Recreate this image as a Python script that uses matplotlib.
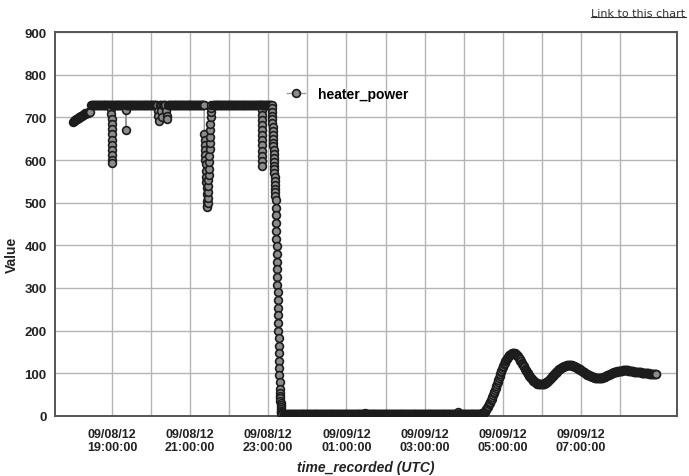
import matplotlib
matplotlib.use("Agg")
import matplotlib.dates as mdates
import matplotlib.pyplot as plt
import matplotlib.ticker as mticker
from matplotlib.lines import Line2D
import numpy as np
import pandas as pd

# heater_power, stored as segments: start time, sample step (s), values
warmup = [690, 691, 692, 693, 694, 695, 696, 697, 698, 699, 700, 701, 702, 703,
          704, 705, 706, 707, 708, 709, 710, 710, 711, 711, 712, 712, 713]
plateau_a = [730] * 31
dip_1900 = [730, 720, 708, 696, 684, 672, 660, 648, 636, 624, 612, 600, 594, 730]
plateau_b = [730] * 19
dip_1921 = [730, 718, 670, 730]
plateau_c = [730] * 45
dips_2010 = [730, 730, 716, 703, 692, 730, 730, 730, 714, 700,
             730, 730, 730, 730, 730, 716, 704, 696, 730, 730]
plateau_d = [730] * 54
dip_2121 = [730, 660, 648, 636, 624, 612, 600, 590, 575, 560, 548, 535, 520, 505,
            492, 490, 500, 512, 525, 540, 552, 565, 580, 595, 610, 625, 640, 655,
            670, 685, 700, 712, 722, 730]
plateau_e = [730] * 75
dip_2249 = [730, 718, 706, 694, 682, 670, 658, 646, 634, 622, 610, 598, 586, 730]
plateau_f = [730] * 14
shutdown = [730, 722, 713, 704, 695, 686, 677, 668, 659, 650, 641, 632, 623, 614,
            605, 596, 587, 578, 569, 560, 551, 542, 533, 524, 515, 506,
            488, 470, 452, 434, 416, 398, 380, 362, 344, 326, 308, 290, 272, 254,
            236, 218, 200, 182, 164, 147, 130, 113, 96, 79, 63,
            55, 48, 42, 36, 30, 25, 20, 16, 12, 9, 7, 6, 5, 5, 4, 4]
idle = [5, 4, 4, 5, 3] + [4] * 120 + [6, 4, 5] + [4] * 139 + [10, 5] + [4] * 35
recovery = [6, 7, 8, 9, 10, 12, 14, 16, 18, 21, 24, 27, 30, 33, 37, 41, 45, 49, 53, 57,
            62, 66, 71, 75, 80, 84, 89, 93, 98, 102, 106, 110, 114, 117, 121, 124, 128, 131, 134, 136,
            139, 141, 143, 144, 146, 146, 147, 147, 148, 148, 147, 146, 145, 143, 142, 140, 138, 135, 133, 130,
            128, 125, 123, 120, 117, 114, 111, 108, 106, 103, 101, 98, 96, 94, 92, 90, 88, 86, 84, 82,
            81, 80, 79, 78, 77, 76, 76, 75, 75, 74, 74, 74, 74, 74, 75, 75, 76, 77, 78, 79,
            80, 81, 83, 84, 86, 87, 89, 91, 93, 94, 96, 98, 100, 101, 103, 104, 106, 107, 109, 110,
            111, 112, 113, 114, 115, 116, 117, 117, 118, 118, 119, 119, 120, 120, 120, 120, 120, 119, 119, 118,
            118, 117, 117, 116, 115, 114, 113, 112, 111, 110, 109, 108, 107, 106, 105, 104, 103, 102, 101, 100,
            99, 98, 97, 96, 96, 95, 94, 93, 93, 92, 92, 91, 91, 90, 90, 90, 90, 89, 89, 89,
            89, 89, 89, 89, 90, 90, 91, 91, 92, 92, 93, 94, 95, 95, 96, 97, 98, 98, 99, 100,
            101, 101, 102, 102, 103, 103, 104, 104, 105, 105, 105, 105, 106, 106, 106, 106, 107, 107, 107, 107,
            107, 107, 107, 107, 107, 106, 106, 106, 106, 105, 105, 105, 105, 104, 104, 104, 104, 103, 103, 103,
            103, 102, 102, 102, 102, 101, 101, 101, 101, 100, 100, 100, 100, 100, 100, 100, 100, 99, 99, 99,
            99, 99, 99, 99, 99, 98, 98, 98, 98]

seg_start = ["2012-09-08 18:00:00", "2012-09-08 18:28:00", "2012-09-08 18:59:00",
             "2012-09-08 19:02:00", "2012-09-08 19:21:00", "2012-09-08 19:23:00",
             "2012-09-08 20:08:00", "2012-09-08 20:28:00", "2012-09-08 21:21:30",
             "2012-09-08 21:35:00", "2012-09-08 22:49:30", "2012-09-08 22:51:00",
             "2012-09-08 23:05:00", "2012-09-08 23:24:00", "2012-09-09 04:28:00"]
seg_step_s = [60, 60, 6, 60, 10, 60, 60, 60, 20, 60, 6, 60, 15, 60, 60]
seg_values = [warmup, plateau_a, dip_1900, plateau_b, dip_1921, plateau_c, dips_2010,
              plateau_d, dip_2121, plateau_e, dip_2249, plateau_f, shutdown, idle, recovery]

tick_times = ["2012-09-08 19:00", "2012-09-08 21:00", "2012-09-08 23:00",
              "2012-09-09 01:00", "2012-09-09 03:00", "2012-09-09 05:00",
              "2012-09-09 07:00"]
grid_times = pd.date_range("2012-09-08 19:00", "2012-09-09 08:00", freq="h")
x_range = ["2012-09-08 17:32:30", "2012-09-09 09:27:30"]
y_ticks = list(range(0, 1000, 100))

FONT = "Liberation Sans"
plt.rcParams.update({
    "font.family": [FONT, "DejaVu Sans"],
    "font.weight": "bold",
})

times = np.concatenate([
    (pd.Timestamp(s) + pd.to_timedelta(np.arange(len(v)) * st, unit="s")).to_numpy()
    for s, st, v in zip(seg_start, seg_step_s, seg_values)
])
power = np.concatenate([np.asarray(v, dtype=float) for v in seg_values])

fig, ax = plt.subplots(figsize=(6.89, 4.77), dpi=100)
fig.subplots_adjust(left=0.0798, right=0.9826, bottom=0.1258, top=0.9308)

ax.plot(times, power, color="#9a9a9a", linewidth=1.0, marker="o", markersize=5.6,
        markerfacecolor="#8c8c8c", markeredgecolor="#1c1c1c", markeredgewidth=1.2,
        label="heater_power", zorder=3)

ax.set_xlim(pd.Timestamp(x_range[0]), pd.Timestamp(x_range[1]))
ax.set_ylim(0, 900)
ax.set_yticks(y_ticks)
ax.xaxis.set_major_locator(mticker.FixedLocator(mdates.date2num(pd.to_datetime(tick_times))))
ax.xaxis.set_minor_locator(mticker.FixedLocator(mdates.date2num(grid_times)))
ax.xaxis.set_major_formatter(mdates.DateFormatter("%m/%d/%y\n%H:%M:%S"))

ax.grid(True, which="both", axis="x", color="#b4b4b4", linewidth=1.0)
ax.grid(True, which="major", axis="y", color="#b4b4b4", linewidth=1.0)
ax.set_axisbelow(True)
ax.tick_params(which="both", length=0)
ax.tick_params(axis="x", pad=9, labelsize=9, labelcolor="#222222")
ax.tick_params(axis="y", pad=6, labelsize=9.5, labelcolor="#222222")
for lab in ax.get_xticklabels():
    lab.set_linespacing(1.05)

for sp in ax.spines.values():
    sp.set_color("#555555")
    sp.set_linewidth(1.4)

ax.set_xlabel("time_recorded (UTC)", fontsize=10, fontstyle="italic",
              fontweight="bold", color="#222222", labelpad=5)
fig.text(0.017, 0.465, "Value", rotation=90, fontsize=10, fontweight="bold",
         color="#222222", ha="center", va="center")

ax.legend(loc="center left", bbox_to_anchor=(0.373, 0.8385), frameon=False,
          handlelength=1.3, handletextpad=0.9, borderpad=0, borderaxespad=0,
          prop={"family": FONT, "weight": "bold", "size": 10})

link = fig.text(0.995, 0.982, "Link to this chart", ha="right", va="top",
                fontsize=8, fontweight="normal", color="#333333",
                family="DejaVu Sans")
fig.canvas.draw()
bb = link.get_window_extent().transformed(fig.transFigure.inverted())
fig.add_artist(Line2D([bb.x0, bb.x1], [bb.y0 + 0.002, bb.y0 + 0.002],
                      transform=fig.transFigure, color="#333333", linewidth=0.8))

fig.savefig("out.png", dpi=100)
